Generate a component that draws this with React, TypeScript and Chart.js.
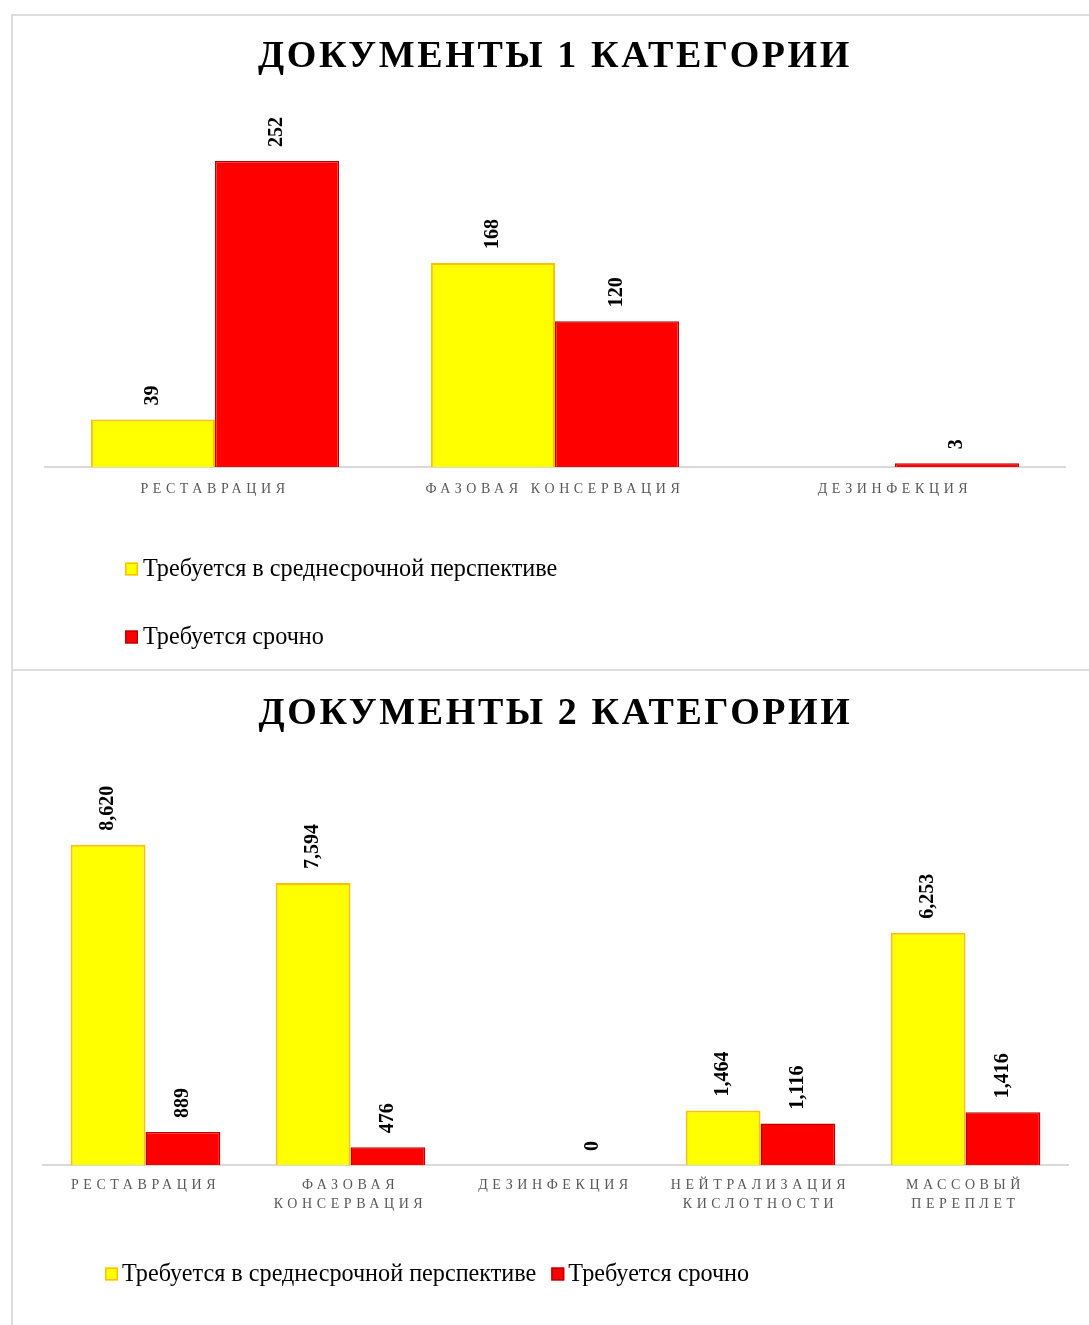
import React, { useEffect, useRef } from 'react';
import { Chart, registerables } from 'chart.js';

Chart.register(...registerables);

const SERIES_LABELS = ['Требуется в среднесрочной перспективе', 'Требуется срочно'];

const CAT1_TITLE = 'ДОКУМЕНТЫ 1 КАТЕГОРИИ';
const CAT1_LABELS = ['РЕСТАВРАЦИЯ', 'ФАЗОВАЯ КОНСЕРВАЦИЯ', 'ДЕЗИНФЕКЦИЯ'];
const CAT1_MEDIUM = [39, 168, null];
const CAT1_URGENT = [252, 120, 3];
const CAT1_Y_MAX = 300;

const CAT2_TITLE = 'ДОКУМЕНТЫ 2 КАТЕГОРИИ';
const CAT2_LABELS = [
  ['РЕСТАВРАЦИЯ'],
  ['ФАЗОВАЯ', 'КОНСЕРВАЦИЯ'],
  ['ДЕЗИНФЕКЦИЯ'],
  ['НЕЙТРАЛИЗАЦИЯ', 'КИСЛОТНОСТИ'],
  ['МАССОВЫЙ', 'ПЕРЕПЛЕТ'],
];
const CAT2_MEDIUM = [8620, 7594, null, 1464, 6253];
const CAT2_URGENT = [889, 476, 0, 1116, 1416];
const CAT2_Y_MAX = 10000;

const YELLOW = '#FFFF00';
const YELLOW_BORDER = '#FFC000';
const RED = '#FF0000';
const RED_BORDER = '#C00000';
const SERIF = "'Liberation Serif', 'Times New Roman', serif";

const letterSpacingPlugin = {
  id: 'letterSpacing',
  beforeDraw(chart: any, _args: any, opts: any) {
    const ctx = chart.ctx;
    const wrap = (obj: any, key: string, spacing: string) => {
      if (!obj || obj['__wrapped_' + key]) return;
      const orig = obj[key];
      obj[key] = function (...a: any[]) {
        const prev = ctx.letterSpacing;
        ctx.letterSpacing = spacing;
        try {
          return orig.apply(this, a);
        } finally {
          ctx.letterSpacing = prev;
        }
      };
      obj['__wrapped_' + key] = true;
    };
    wrap(chart.titleBlock, 'draw', opts.title || '0px');
    wrap(chart.scales.x, 'drawLabels', opts.ticks || '0px');
  },
};

const valueLabelPlugin = {
  id: 'valueLabels',
  afterDatasetsDraw(chart: any, _args: any, opts: any) {
    const ctx = chart.ctx;
    ctx.save();
    ctx.font = opts.font;
    ctx.fillStyle = opts.color;
    ctx.textAlign = 'left';
    ctx.textBaseline = 'middle';
    chart.data.datasets.forEach((ds: any, di: number) => {
      const meta = chart.getDatasetMeta(di);
      meta.data.forEach((el: any, i: number) => {
        const v = ds.data[i];
        if (v === null || v === undefined) return;
        const { x, y } = el.getProps(['x', 'y'], true);
        ctx.save();
        ctx.translate(x, y - opts.offset);
        ctx.rotate(-Math.PI / 2);
        ctx.fillText(Number(v).toLocaleString('en-US'), 0, 0);
        ctx.restore();
      });
    });
    ctx.restore();
  },
};

const customLegendPlugin = {
  id: 'customLegend',
  afterDraw(chart: any, _args: any, opts: any) {
    const ctx = chart.ctx;
    const box = opts.box;
    ctx.save();
    ctx.font = opts.font;
    ctx.textAlign = 'left';
    ctx.textBaseline = 'middle';
    let x = opts.x;
    let y = opts.y;
    chart.data.datasets.forEach((ds: any) => {
      ctx.fillStyle = ds.backgroundColor;
      ctx.strokeStyle = ds.borderColor;
      ctx.lineWidth = 1.5;
      ctx.fillRect(x, y - box / 2, box, box);
      ctx.strokeRect(x + 0.75, y - box / 2 + 0.75, box - 1.5, box - 1.5);
      ctx.fillStyle = opts.color;
      ctx.fillText(ds.label, x + box + opts.textGap, y + 1);
      const w = ctx.measureText(ds.label).width;
      if (opts.vertical) {
        y += opts.rowGap;
      } else {
        x += box + opts.textGap + w + opts.itemGap;
      }
    });
    ctx.restore();
  },
};

function makeConfig(
  labels: any[],
  medium: (number | null)[],
  urgent: (number | null)[],
  title: string,
  yMax: number,
  layout: any,
  titlePadding: any,
  tickPadding: number,
  legend: any
): any {
  return {
    type: 'bar',
    data: {
      labels,
      datasets: [
        {
          label: SERIES_LABELS[0],
          data: medium,
          backgroundColor: YELLOW,
          borderColor: YELLOW_BORDER,
          borderWidth: 2,
          categoryPercentage: 0.73,
          barPercentage: 1,
        },
        {
          label: SERIES_LABELS[1],
          data: urgent,
          backgroundColor: RED,
          borderColor: RED_BORDER,
          borderWidth: 1.5,
          categoryPercentage: 0.73,
          barPercentage: 1,
        },
      ],
    },
    options: {
      responsive: false,
      animation: false,
      layout: { padding: layout },
      plugins: {
        legend: { display: false },
        tooltip: { enabled: false },
        title: {
          display: true,
          text: title,
          color: '#000000',
          font: { family: SERIF, size: 38, weight: 'bold', lineHeight: 1.2 },
          padding: titlePadding,
        },
        letterSpacing: { title: '2.6px', ticks: '4.6px' },
        valueLabels: { font: `bold 20px ${SERIF}`, color: '#000000', offset: 14 },
        customLegend: legend,
      },
      scales: {
        x: {
          grid: { display: false, drawTicks: false },
          border: { display: true, color: '#D9D9D9', width: 2 },
          ticks: {
            color: '#595959',
            font: { family: SERIF, size: 14, lineHeight: 1.36 },
            padding: tickPadding,
            maxRotation: 0,
            minRotation: 0,
            autoSkip: false,
          },
        },
        y: { display: false, min: 0, max: yMax },
      },
    },
    plugins: [letterSpacingPlugin, valueLabelPlugin, customLegendPlugin],
  };
}

export default function App() {
  const ref1 = useRef<HTMLCanvasElement>(null);
  const ref2 = useRef<HTMLCanvasElement>(null);

  useEffect(() => {
    const c1 = new Chart(
      ref1.current as HTMLCanvasElement,
      makeConfig(
        CAT1_LABELS,
        CAT1_MEDIUM,
        CAT1_URGENT,
        CAT1_TITLE,
        CAT1_Y_MAX,
        { left: 32, right: 24, top: 0, bottom: 158 },
        { top: 18, bottom: 23 },
        12.5,
        { vertical: true, x: 112, y: 553, rowGap: 68, box: 13, textGap: 5, itemGap: 15, font: `24.2px ${SERIF}`, color: '#000000' }
      )
    );
    const c2 = new Chart(
      ref2.current as HTMLCanvasElement,
      makeConfig(
        CAT2_LABELS,
        CAT2_MEDIUM,
        CAT2_URGENT,
        CAT2_TITLE,
        CAT2_Y_MAX,
        { left: 30, right: 21, top: 0, bottom: 101 },
        { top: 20, bottom: 57 },
        10.5,
        { vertical: false, x: 92, y: 603, rowGap: 68, box: 13, textGap: 4, itemGap: 15, font: `24.2px ${SERIF}`, color: '#000000' }
      )
    );
    return () => {
      c1.destroy();
      c2.destroy();
    };
  }, []);

  return (
    <div style={{ position: 'absolute', left: 0, top: 0, width: 1089, height: 1325, overflow: 'hidden', background: '#fff' }}>
      <div style={{ position: 'absolute', left: 11, top: 14, width: 1100, height: 653, border: '2px solid #DDDDDD' }} />
      <div style={{ position: 'absolute', left: 11, top: 669, width: 1100, height: 700, border: '2px solid #DDDDDD' }} />
      <canvas ref={ref1} width={1076} height={653} style={{ position: 'absolute', left: 13, top: 16, display: 'block' }} />
      <canvas ref={ref2} width={1076} height={654} style={{ position: 'absolute', left: 13, top: 671, display: 'block' }} />
    </div>
  );
}
